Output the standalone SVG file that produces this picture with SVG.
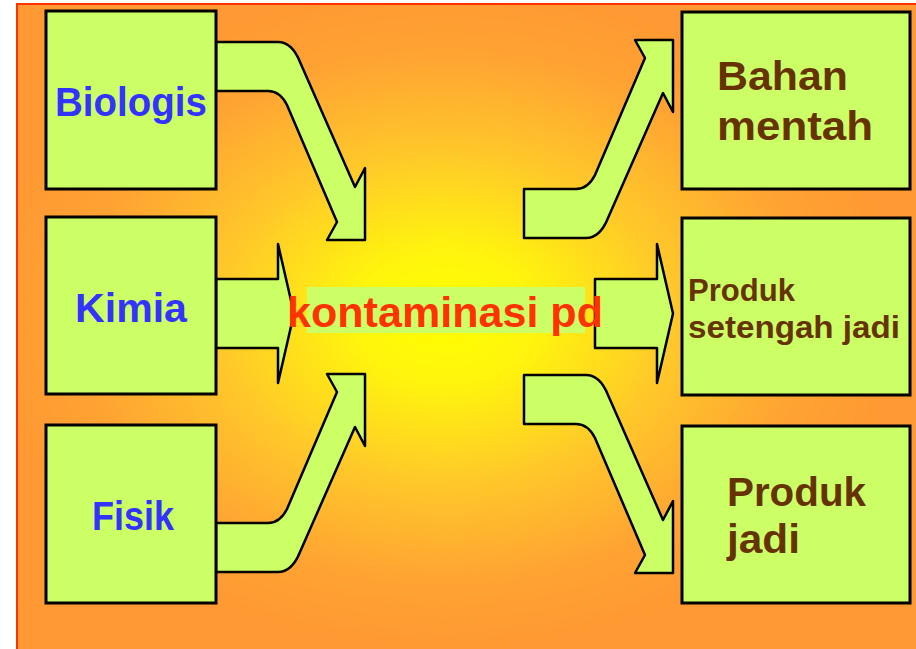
<svg xmlns="http://www.w3.org/2000/svg" width="916" height="649" viewBox="0 0 916 649">
  <defs>
    <radialGradient id="bg" cx="0.47" cy="0.475" r="0.5" gradientUnits="objectBoundingBox">
      <stop offset="0" stop-color="#ffff00"/>
      <stop offset="0.2" stop-color="#fff50d"/>
      <stop offset="0.5" stop-color="#ffc82a"/>
      <stop offset="0.8" stop-color="#ffa333"/>
      <stop offset="1" stop-color="#ff9933"/>
    </radialGradient>
    <style>
      .box { fill: #ccff66; stroke: #000; stroke-width: 3; }
      .arrow { fill: #ccff66; stroke: #000; stroke-width: 2.5; stroke-linejoin: round; }
      .t { font-family: "Liberation Sans", Arial, sans-serif; font-weight: bold; }
      .blue { fill: #3333ff; font-size: 41px; }
      .brown { fill: #663300; font-size: 41px; }
      .brown2 { fill: #663300; font-size: 31px; }
      .red { fill: #ff3300; font-size: 42px; }
    </style>
  </defs>
  <rect x="0" y="0" width="916" height="649" fill="#ffffff"/>
  <rect x="17" y="4" width="910" height="660" fill="url(#bg)" stroke="#ff3300" stroke-width="2"/>

  <g id="connectors">
    <path class="arrow" d="M216,42 H278 Q292,42 300,62 L355,187 L365,168 V240 H327 L337,222 L287,105 Q280,91 268,91 H216 Z"/>
    <path class="arrow" d="M216,279 H278 V244 L294,313.5 L278,383 V348 H216 Z"/>
    <path class="arrow" d="M216,523 H268 Q280,523 287,509 L337,392 L327,374 H365 V446 L355,427 L300,552 Q292,572 278,572 H216 Z"/>
    <path class="arrow" transform="translate(308,-334)" d="M216,523 H268 Q280,523 287,509 L337,392 L327,374 H365 V446 L355,427 L300,552 Q292,572 278,572 H216 Z"/>
    <path class="arrow" d="M595,279 H657 V244 L673,313.5 L657,383 V348 H595 Z"/>
    <path class="arrow" transform="translate(308,333)" d="M216,42 H278 Q292,42 300,62 L355,187 L365,168 V240 H327 L337,222 L287,105 Q280,91 268,91 H216 Z"/>
  </g>

  <g id="biologis">
    <rect class="box" x="46" y="11" width="170" height="178"/>
    <text class="t blue" x="55" y="116" textLength="152" lengthAdjust="spacingAndGlyphs">Biologis</text>
  </g>
  <g id="kimia">
    <rect class="box" x="46" y="217" width="170" height="177"/>
    <text class="t blue" x="75" y="322" textLength="112" lengthAdjust="spacingAndGlyphs">Kimia</text>
  </g>
  <g id="fisik">
    <rect class="box" x="46" y="425" width="170" height="178"/>
    <text class="t blue" x="92" y="530" textLength="82" lengthAdjust="spacingAndGlyphs">Fisik</text>
  </g>

  <g id="kontaminasi">
    <rect x="307" y="287" width="278" height="46" fill="#ccff66"/>
    <text class="t red" x="287" y="327" textLength="316" lengthAdjust="spacingAndGlyphs">kontaminasi pd</text>
  </g>

  <g id="bahan-mentah">
    <rect class="box" x="682" y="12" width="228" height="177"/>
    <text class="t brown" x="717" y="90" textLength="131" lengthAdjust="spacingAndGlyphs">Bahan</text>
    <text class="t brown" x="717" y="140" textLength="156" lengthAdjust="spacingAndGlyphs">mentah</text>
  </g>
  <g id="produk-setengah-jadi">
    <rect class="box" x="682" y="218" width="228" height="177"/>
    <text class="t brown2" x="688" y="301" textLength="107" lengthAdjust="spacingAndGlyphs">Produk</text>
    <text class="t brown2" x="688" y="338" textLength="212" lengthAdjust="spacingAndGlyphs">setengah jadi</text>
  </g>
  <g id="produk-jadi">
    <rect class="box" x="682" y="426" width="228" height="177"/>
    <text class="t brown" x="727" y="506" textLength="139" lengthAdjust="spacingAndGlyphs">Produk</text>
    <text class="t brown" x="727" y="553" textLength="73" lengthAdjust="spacingAndGlyphs">jadi</text>
  </g>
</svg>
